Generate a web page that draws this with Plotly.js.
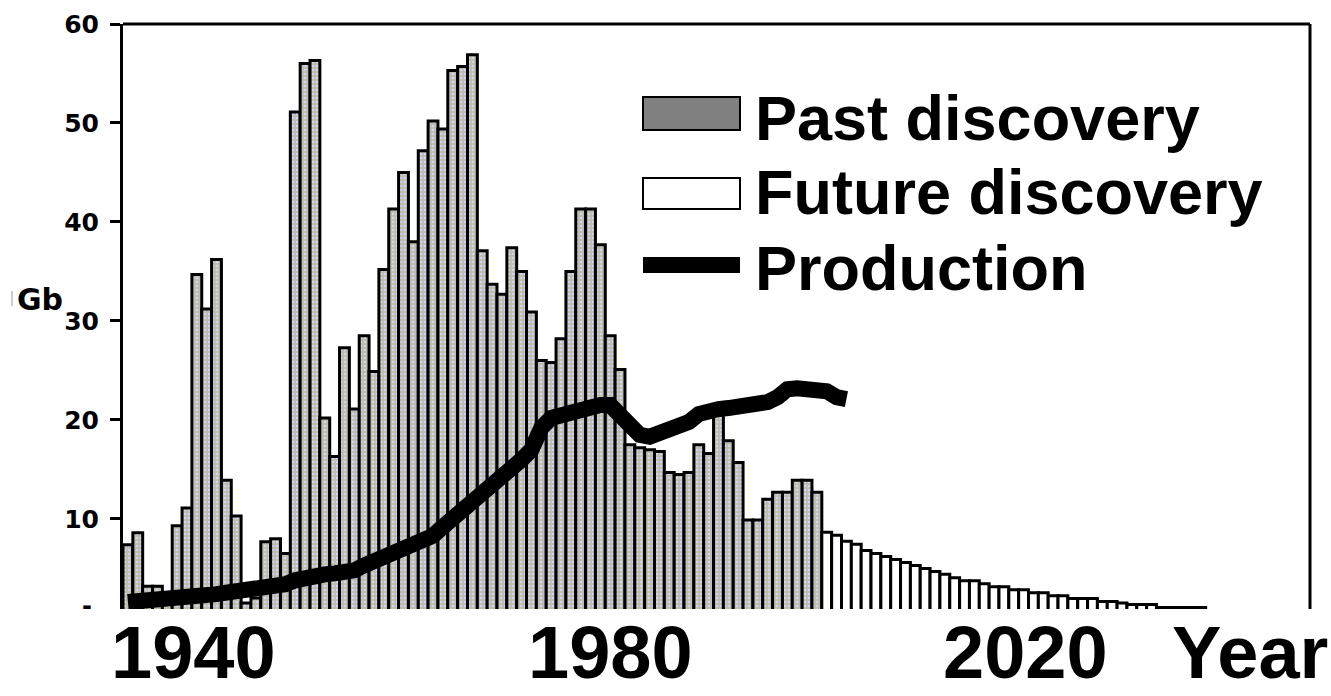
<!DOCTYPE html>
<html>
<head>
<meta charset="utf-8">
<script src="https://cdn.plot.ly/plotly-3.0.1.min.js"></script>
<style>
  html, body { margin: 0; padding: 0; background: #ffffff; }
  #chart { width: 1331px; height: 696px; }
</style>
</head>
<body>
<div id="chart"></div>
<script>
// ---- Data ----
const pastYears = [1930,1931,1932,1933,1934,1935,1936,1937,1938,1939,
  1940,1941,1942,1943,1944,1945,1946,1947,1948,1949,
  1950,1951,1952,1953,1954,1955,1956,1957,1958,1959,
  1960,1961,1962,1963,1964,1965,1966,1967,1968,1969,
  1970,1971,1972,1973,1974,1975,1976,1977,1978,1979,
  1980,1981,1982,1983,1984,1985,1986,1987,1988,1989,
  1990,1991,1992,1993,1994,1995,1996,1997,1998,1999,2000];
const pastDiscovery = [7.4,8.6,3.2,3.2,1.5,9.3,11.1,34.7,31.2,36.2,
  13.9,10.3,1.5,2.0,7.7,8.0,6.5,51.1,56.0,56.3,
  20.2,16.3,27.3,21.1,28.5,24.9,35.2,41.3,45.0,38.0,
  47.2,50.2,49.4,55.3,55.7,56.9,37.1,33.7,32.7,37.4,
  35.0,30.9,26.0,25.8,28.2,35.0,41.3,41.3,37.7,28.5,
  25.1,17.5,17.2,17.0,16.8,14.7,14.5,14.7,17.5,16.6,
  20.5,17.9,15.7,9.9,9.9,12.0,12.7,12.7,13.9,13.9,12.7];

const futureYears = [2001,2002,2003,2004,2005,2006,2007,2008,2009,2010,
  2011,2012,2013,2014,2015,2016,2017,2018,2019,2020,
  2021,2022,2023,2024,2025,2026,2027,2028,2029,2030,
  2031,2032,2033,2034,2035,2036,2037,2038,2039];
const futureDiscovery = [8.65,8.35,7.75,7.45,6.8,6.5,6.2,5.9,5.6,5.3,
  5.0,4.7,4.4,4.05,3.75,3.75,3.45,3.15,3.15,2.85,
  2.85,2.55,2.55,2.25,2.25,1.95,1.95,1.95,1.65,1.65,
  1.5,1.35,1.35,1.35,1.05,1.05,1.05,1.05,1.05];

const prodYears = [1930,1931,1932,1933,1934,1935,1936,1937,1938,1939,
  1940,1941,1942,1943,1944,1945,1946,1947,1948,1949,
  1950,1951,1952,1953,1954,1955,1956,1957,1958,1959,
  1960,1961,1962,1963,1964,1965,1966,1967,1968,1969,
  1970,1971,1972,1973,1974,1975,1976,1977,1978,1979,
  1980,1981,1982,1983,1984,1985,1986,1987,1988,1989,
  1990,1991,1992,1993,1994,1995,1996,1997,1998,1999,
  2000,2001,2002,2003];
const production = [1.6,1.65,1.7,1.75,1.9,1.95,2.1,2.25,2.3,2.4,
  2.55,2.65,2.75,2.85,3.0,3.2,3.4,3.8,4.1,4.3,
  4.4,4.5,4.6,4.8,5.3,5.7,5.9,6.3,6.8,7.2,
  7.6,8.3,9.2,10.0,10.8,11.6,12.3,13.2,14.2,15.0,
  16.0,17.0,19.2,20.2,20.5,20.7,21.2,21.3,21.5,21.5,
  20.6,19.4,18.5,18.3,18.6,19.0,19.6,19.8,20.6,21.0,
  21.1,21.2,21.3,21.3,21.6,21.8,22.3,23.1,23.2,23.2,
  22.9,22.9,22.3,22.1];

const seriesNames = ['Past discovery', 'Future discovery', 'Production'];
const yTickVals = [10, 20, 30, 40, 50, 60];
const yTickText = ['10', '20', '30', '40', '50', '60'];
const yearLabels = ['1940', '1980', '2020'];
const xAxisLabel = 'Year';
const yAxisLabel = 'Gb';

// ---- Layout helpers (pixel -> paper) ----
const W = 1331, H = 696;
const L = 123, R = 21, T = 24, B = 87;
const PW = W - L - R, PH = H - T - B;
const px = x => (x - L) / PW;
const py = y => (H - B - y) / PH;

const traces = [
  {
    type: 'bar', name: seriesNames[0], x: pastYears, y: pastDiscovery,
    width: 1,
    marker: {
      color: '#bdbcab',
      line: { color: '#000000', width: 3 },
      pattern: { shape: '.', bgcolor: '#bebda9', fgcolor: '#d4d4f2', size: 4, solidity: 0.35 }
    },
    hoverinfo: 'skip'
  },
  {
    type: 'bar', name: seriesNames[1], x: futureYears, y: futureDiscovery,
    width: 1,
    marker: { color: '#ffffff', line: { color: '#000000', width: 3 } },
    hoverinfo: 'skip'
  },
  {
    type: 'scatter', mode: 'lines', name: seriesNames[2], x: prodYears, y: production,
    line: { color: '#000000', width: 16 },
    cliponaxis: false,
    hoverinfo: 'skip'
  }
];

const yearFont = { family: 'Liberation Sans, Arial', size: 74, weight: 'bold', color: '#000000' };
const yearCentersPx = [193, 610, 1025];
const annotations = [];
yearLabels.forEach((t, i) => {
  annotations.push({
    xref: 'paper', yref: 'paper', x: px(yearCentersPx[i]), y: py(696),
    xanchor: 'center', yanchor: 'bottom', showarrow: false, text: t,
    font: yearFont
  });
});
annotations.push({
  xref: 'paper', yref: 'paper', x: px(1250), y: py(696),
  xanchor: 'center', yanchor: 'bottom', showarrow: false, text: xAxisLabel,
  font: yearFont
});
annotations.push({
  xref: 'paper', yref: 'paper', x: px(40), y: py(299),
  xanchor: 'center', yanchor: 'middle', showarrow: false, text: yAxisLabel,
  font: { family: 'DejaVu Sans', size: 30, weight: 'bold', color: '#000000' }
});
annotations.push({
  xref: 'paper', yref: 'paper', x: px(87), y: py(606),
  xanchor: 'center', yanchor: 'middle', showarrow: false, text: '-',
  font: { family: 'DejaVu Sans', size: 24, weight: 'bold', color: '#000000' }
});
const legendTextY = [118, 192, 268];
seriesNames.forEach((t, i) => {
  annotations.push({
    xref: 'paper', yref: 'paper', x: px(753), y: py(legendTextY[i]),
    xanchor: 'left', yanchor: 'middle', showarrow: false, text: t,
    font: { family: 'Liberation Sans, Arial', size: 63, weight: 'bold', color: '#000000' }
  });
});

const shapes = [
  { type: 'line', xref: 'paper', yref: 'paper', x0: 0, x1: 1, y0: 1, y1: 1, line: { color: '#000', width: 3 } },
  { type: 'line', xref: 'paper', yref: 'paper', x0: 1, x1: 1, y0: 0, y1: 1, line: { color: '#000', width: 3 } },
  { type: 'rect', xref: 'paper', yref: 'paper', x0: px(643), x1: px(740), y0: py(130), y1: py(97),
    fillcolor: '#808080', line: { color: '#000', width: 2 } },
  { type: 'rect', xref: 'paper', yref: 'paper', x0: px(643), x1: px(740), y0: py(209), y1: py(178),
    fillcolor: '#ffffff', line: { color: '#000', width: 2 } },
  { type: 'rect', xref: 'paper', yref: 'paper', x0: px(643), x1: px(740), y0: py(273), y1: py(257),
    fillcolor: '#000000', line: { color: '#000', width: 0 } },
  { type: 'line', xref: 'paper', yref: 'paper', x0: px(12), x1: px(12), y0: py(306), y1: py(291),
    line: { color: '#9a9a9a', width: 1 } }
];

const layout = {
  width: W, height: H,
  margin: { l: L, r: R, t: T, b: B, pad: 0 },
  paper_bgcolor: '#ffffff', plot_bgcolor: '#ffffff',
  showlegend: false,
  barmode: 'overlay', bargap: 0,
  xaxis: {
    range: [1929.5, 2050.1],
    showgrid: false, zeroline: false, showline: false,
    showticklabels: false, ticks: ''
  },
  yaxis: {
    range: [0.9, 60],
    tickvals: yTickVals, ticktext: yTickText,
    ticks: 'outside', ticklen: 10, tickwidth: 3, tickcolor: '#000',
    showline: true, linewidth: 3, linecolor: '#000',
    showgrid: false, zeroline: false,
    ticklabelstandoff: 6,
    tickfont: { family: 'DejaVu Sans', size: 25, weight: 'bold', color: '#000' }
  },
  shapes: shapes,
  annotations: annotations
};

Plotly.newPlot('chart', traces, layout, { staticPlot: true, displayModeBar: false });
</script>
</body>
</html>
